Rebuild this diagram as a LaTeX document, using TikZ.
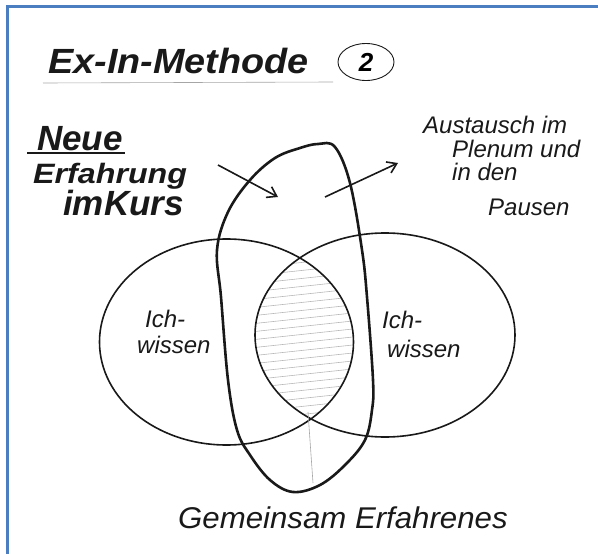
\documentclass[tikz,border=0pt]{standalone}
\usepackage{fontspec}
\setmainfont{Liberation Sans}
\usetikzlibrary{shapes.geometric,arrows.meta}
\definecolor{frameblue}{RGB}{74,126,192}
\definecolor{ink}{RGB}{25,25,25}
\tikzset{
  frameline/.style={draw=frameblue,line width=2.5pt},
  oval/.style={draw=ink,ellipse,line width=1.6pt,inner sep=0pt,outer sep=0pt},
  loopline/.style={draw=ink,line width=2.6pt},
  hatchline/.style={draw=gray!55,line width=0.6pt},
  thinline/.style={draw=gray!70,line width=0.6pt},
  pointer/.style={draw=ink,line width=1.6pt,-{Straight Barb[length=9pt,width=12pt]}},
  hand/.style={text=ink,font=\itshape,inner sep=0pt,anchor=base west},
}
\begin{document}
\begin{tikzpicture}[x=1pt,y=-1pt]
\useasboundingbox (0,0) rectangle (598,554);
% frame
\draw[frameline] (7.5,554) -- (7.5,6.5) -- (598,6.5);

% title
\node[hand,font=\fontsize{35}{40}\selectfont\bfseries\itshape,xscale=1.08] (title) at (48,73) {Ex-In-Methode};
\draw[thinline] (43,83) -- (333,82);
\node[oval,line width=0.9pt,minimum width=56pt,minimum height=37pt,font=\fontsize{26}{30}\selectfont\bfseries\itshape] (two) at (366,62) {2};

% left text
\node[hand,font=\fontsize{35}{40}\selectfont\bfseries\itshape] (neue) at (37,150) {Neue};
\draw[ink,line width=1.6pt] (27,153) -- (125,153);
\node[hand,font=\fontsize{28}{32}\selectfont\bfseries\itshape,xscale=1.15] (erf) at (33,183) {Erfahrung};
\node[hand,font=\fontsize{35}{40}\selectfont\bfseries\itshape] (kurs) at (63,215) {imKurs};

% right text
\node[hand,font=\fontsize{24}{28}\selectfont\itshape] (aus1) at (423,133) {Austausch im};
\node[hand,font=\fontsize{24}{28}\selectfont\itshape] (aus2) at (452,157) {Plenum und};
\node[hand,font=\fontsize{24}{28}\selectfont\itshape] (aus3) at (452,180) {in den};
\node[hand,font=\fontsize{24}{28}\selectfont\itshape] (aus4) at (488,215) {Pausen};

% hatching in the lens
\begin{scope}
  \clip (226.5,342) ellipse [x radius=127, y radius=103];
  \clip (385,335) ellipse [x radius=130, y radius=102];
  \foreach \yy in {246,254,...,440} {
    \draw[hatchline] (250,\yy+6) -- (362,\yy-6);
  }
\end{scope}

% ellipses
\node[oval,minimum width=254pt,minimum height=206pt] (left) at (226.5,342) {};
\node[oval,minimum width=260pt,minimum height=204pt] (right) at (385,335) {};

% tall loop
\draw[loopline] plot[smooth cycle,tension=0.6] coordinates {
  (300,148) (318,144) (335,147) (350,183) (362,250) (367,297) (373,380)
  (372,410) (365,440) (345,465) (320,485) (293,492) (270,480) (250,455)
  (237,430) (228,380) (221,297) (217,250) (228,212) (250,180) (275,158)};

% ellipse labels
\node[hand,font=\fontsize{24}{28}\selectfont\itshape] (ich1) at (145,327) {Ich-};
\node[hand,font=\fontsize{24}{28}\selectfont\itshape] (wis1) at (137,353) {wissen};
\node[hand,font=\fontsize{24}{28}\selectfont\itshape] (ich2) at (382,328) {Ich-};
\node[hand,font=\fontsize{24}{28}\selectfont\itshape] (wis2) at (387,357) {wissen};

% arrows
\coordinate (a1s) at (218,165);
\coordinate (a1e) at (278,197);
\coordinate (a2s) at (325,197);
\coordinate (a2e) at (398,163);
\draw[pointer] (a1s) -- (a1e);
\draw[pointer] (a2s) -- (a2e);

% thin line from lens to caption
\coordinate (lensbot) at (308,412);
\coordinate (lineend) at (313,483);
\draw[thinline] (lensbot) -- (lineend);

% caption
\node[hand,font=\fontsize{30}{34}\selectfont\itshape,xscale=1.04] (gem) at (178,528) {Gemeinsam Erfahrenes};
\end{tikzpicture}
\end{document}
